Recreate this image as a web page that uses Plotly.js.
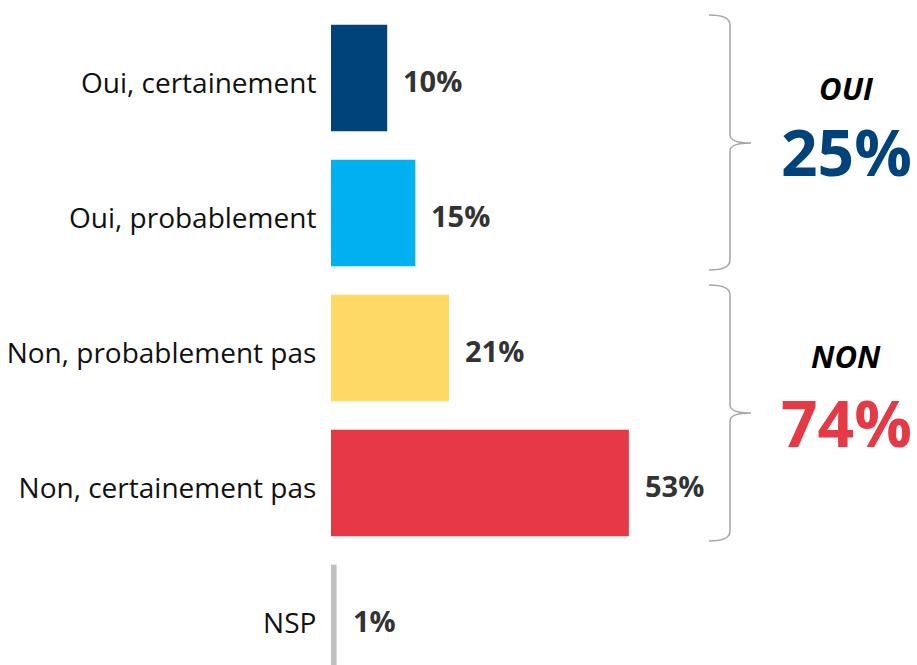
<!DOCTYPE html>
<html><head><meta charset="utf-8">
<script src="https://cdn.plot.ly/plotly-3.0.1.min.js"></script>
<style>html,body{margin:0;padding:0;background:#fff}#chart{width:917px;height:665px}</style>
</head><body><div id="chart"></div>
<script>
var categories = ["Oui, certainement","Oui, probablement","Non, probablement pas","Non, certainement pas","NSP"];
var values = [10, 15, 21, 53, 1];
var valueLabels = ["10%","15%","21%","53%","1%"];
var barColors = ["#00437A","#00B0F0","#FFD966","#E63946","#BFBFBF"];
var groupNames = ["OUI","NON"];
var groupTotals = ["25%","74%"];
var groupColors = ["#00437A","#E63946"];

var W = 917, H = 665, L = 331, R = 0, T = 10, B = 0;
var pw = W - L - R, ph = H - T - B;
function px(x){ return (x - L) / pw; }
function py(y){ return 1 - (y - T) / ph; }

var trace = {
  type: 'bar', orientation: 'h',
  y: categories, x: values,
  marker: {color: barColors},
  width: [0.79,0.79,0.79,0.79,0.79],
  hoverinfo: 'none'
};

var annotations = values.map(function(v, i){
  return {x: v, y: categories[i], xref: 'x', yref: 'y', text: '<b>' + valueLabels[i] + '</b>',
    showarrow: false, xanchor: 'left', yanchor: 'middle', xshift: 14, yshift: -2,
    font: {family: 'Open Sans', size: 29, color: '#333333'}};
});

var groupPos = [{nameY: 88, totY: 151}, {nameY: 356, totY: 422}];
groupNames.forEach(function(g, i){
  annotations.push({x: px(846), y: py(groupPos[i].nameY), xref: 'paper', yref: 'paper',
    text: '<b><i>' + g + '</i></b>', showarrow: false, xanchor: 'center', yanchor: 'middle',
    font: {family: 'Open Sans', size: 31, color: '#000000'}});
  annotations.push({x: px(846), y: py(groupPos[i].totY), xref: 'paper', yref: 'paper',
    text: '<b>' + groupTotals[i] + '</b>', showarrow: false, xanchor: 'center', yanchor: 'middle',
    font: {family: 'Open Sans', size: 64, color: groupColors[i]}});
});

function brace(top, mid, bot){
  var xs = 709, xv = 730, xt = 751;
  function p(x, y){ return px(x).toFixed(5) + ',' + py(y).toFixed(5); }
  return 'M' + p(xs, top) + ' Q' + p(xv, top) + ' ' + p(xv, top + 10) +
    ' L' + p(xv, mid - 8) + ' Q' + p(xv, mid) + ' ' + p(xt, mid) +
    ' Q' + p(xv, mid) + ' ' + p(xv, mid + 8) +
    ' L' + p(xv, bot - 10) + ' Q' + p(xv, bot) + ' ' + p(xs, bot);
}
var shapes = [
  {type: 'path', xref: 'paper', yref: 'paper', path: brace(15, 143, 270), line: {color: '#A6A6A6', width: 1.5}},
  {type: 'path', xref: 'paper', yref: 'paper', path: brace(285, 413, 541), line: {color: '#A6A6A6', width: 1.5}}
];

var layout = {
  width: W, height: H,
  margin: {l: L, r: R, t: T, b: B, pad: 0},
  paper_bgcolor: '#ffffff', plot_bgcolor: '#ffffff',
  showlegend: false,
  xaxis: {range: [0, pw / 5.62], visible: false, fixedrange: true},
  yaxis: {type: 'category', range: [4.348, -0.504], showgrid: false, zeroline: false, showline: false,
    ticks: 'outside', ticklen: 8, tickcolor: 'rgba(0,0,0,0)', ticklabelshift: -5,
    tickfont: {family: 'Open Sans', size: 28, color: '#111111'}, fixedrange: true},
  annotations: annotations,
  shapes: shapes
};

Plotly.newPlot('chart', [trace], layout, {displayModeBar: false, staticPlot: true});
</script>
</body></html>
